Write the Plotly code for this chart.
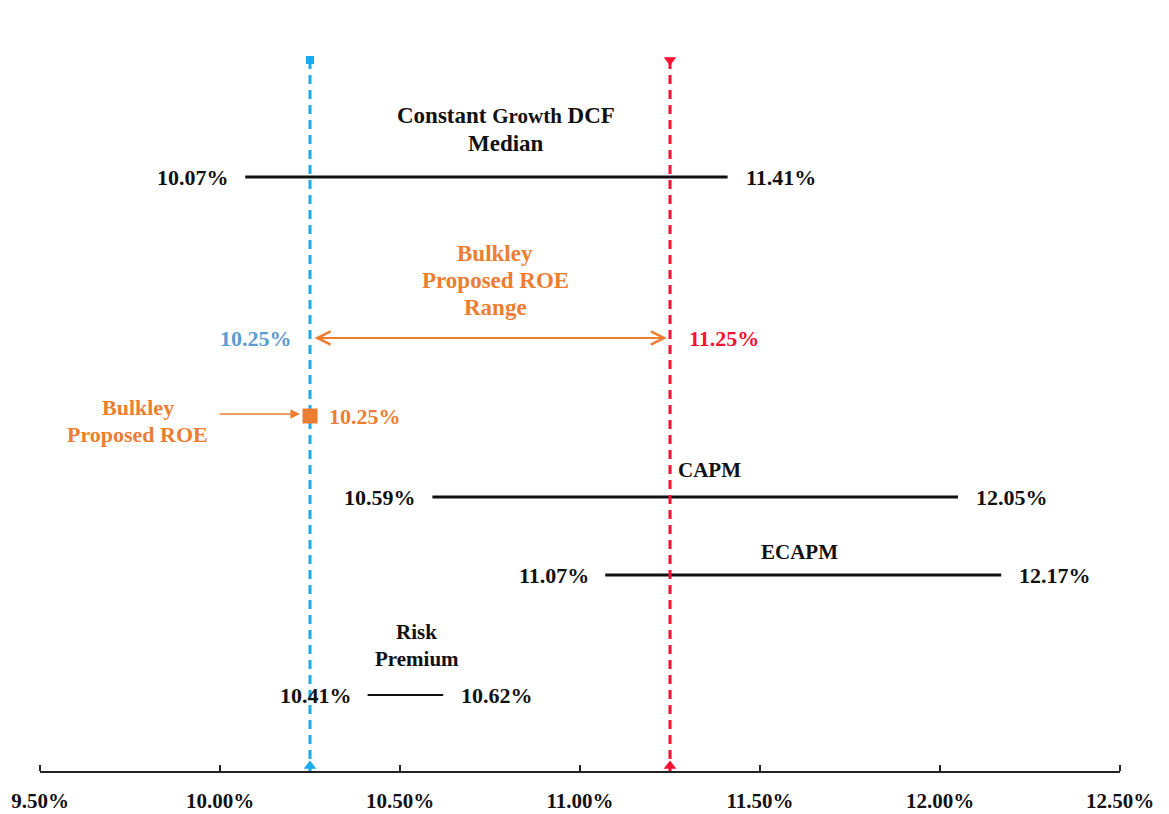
import plotly.graph_objects as go

# ROE estimates by method (percent)
methods = ["Constant Growth DCF Median", "CAPM", "ECAPM", "Risk Premium"]
method_low = [10.07, 10.59, 11.07, 10.41]
method_high = [11.41, 12.05, 12.17, 10.62]

# Proposed ROE range and point estimate (percent)
range_low = 10.25
range_high = 11.25
proposed_roe = 10.25

# Axis ticks (percent)
x_ticks = [9.50, 10.00, 10.50, 11.00, 11.50, 12.00, 12.50]

# ---- layout (vertical positions in plot pixels from the top) ----
W, H = 1169, 814
M_L, M_R, M_T, M_B = 40, 49, 0, 43
PLOT_H = H - M_T - M_B
row_y = [177, 497, 575, 695]
row_width = [3, 3, 3, 2]
range_row_y = 338
proposed_row_y = 416
guide_top = 60

FONT = "Liberation Serif, Times New Roman, serif"
BLACK = "#111111"
ORANGE = "#ED7D31"
BLUE_LINE = "#1AAAEE"
BLUE_TEXT = "#5B9BD5"
RED = "#FF1030"
LABEL_SIZE = 22

fig = go.Figure()
annotations = []


def text(x, y, s, color=BLACK, size=LABEL_SIZE, xanchor="center", xshift=0):
    annotations.append(dict(
        x=x, y=y, xref="x", yref="y", text=f"<b>{s}</b>", showarrow=False,
        xanchor=xanchor, yanchor="middle", xshift=xshift,
        font=dict(family=FONT, size=size, color=color),
    ))


# Method ranges with end labels
for name, lo, hi, y, w in zip(methods, method_low, method_high, row_y, row_width):
    fig.add_trace(go.Scatter(
        x=[lo, hi], y=[y, y], mode="lines",
        line=dict(color=BLACK, width=w), hoverinfo="skip", showlegend=False,
    ))
    text(lo, y, f"{lo:.2f}%", xanchor="right", xshift=-14)
    text(hi, y, f"{hi:.2f}%", xanchor="left", xshift=16)

# Method titles
text(10.794, 115, "Constant <span style='font-size:21px'>Growth</span> DCF", size=23)
text(10.794, 143, "Median", size=23)
text(11.36, 470, "CAPM", size=21)
text(11.611, 552, "ECAPM", size=21)
text(10.547, 632, "Risk", size=21)
text(10.547, 659, "Premium", size=21)

# Vertical guide lines at the proposed range bounds
for xv, col, top_sym, top_size in [(range_low, BLUE_LINE, "square", 8),
                                   (range_high, RED, "triangle-down", 11)]:
    fig.add_trace(go.Scatter(
        x=[xv, xv], y=[guide_top, PLOT_H], mode="lines",
        line=dict(color=col, width=3, dash="9px,6px"),
        hoverinfo="skip", showlegend=False,
    ))
    fig.add_trace(go.Scatter(
        x=[xv], y=[guide_top], mode="markers",
        marker=dict(symbol=top_sym, size=top_size, color=col),
        hoverinfo="skip", showlegend=False, cliponaxis=False,
    ))
    fig.add_trace(go.Scatter(
        x=[xv], y=[PLOT_H - 5], mode="markers",
        marker=dict(symbol="triangle-up", size=11, color=col),
        hoverinfo="skip", showlegend=False, cliponaxis=False,
    ))

# Proposed ROE range: double-headed arrow between the bounds
annotations.append(dict(
    x=range_high, y=range_row_y, ax=range_low, ay=range_row_y,
    xref="x", yref="y", axref="x", ayref="y", text="",
    showarrow=True, arrowside="end+start", arrowhead=5, startarrowhead=5,
    arrowsize=1.3, startarrowsize=1.3, arrowwidth=2, arrowcolor=ORANGE,
    standoff=3, startstandoff=3,
))
text(range_low, range_row_y, f"{range_low:.2f}%", color=BLUE_TEXT,
     xanchor="right", xshift=-16)
text(range_high, range_row_y, f"{range_high:.2f}%", color=RED,
     xanchor="left", xshift=17)
text(10.764, 253, "Bulkley", color=ORANGE, size=23)
text(10.764, 280, "Proposed ROE", color=ORANGE, size=23)
text(10.764, 307, "Range", color=ORANGE, size=23)

# Proposed ROE point
fig.add_trace(go.Scatter(
    x=[proposed_roe], y=[proposed_row_y], mode="markers",
    marker=dict(symbol="square", size=15, color=ORANGE),
    hoverinfo="skip", showlegend=False,
))
text(proposed_roe, proposed_row_y, f"{proposed_roe:.2f}%", color=ORANGE,
     xanchor="left", xshift=17)
annotations.append(dict(
    x=proposed_roe, y=proposed_row_y - 2, ax=-92, ay=0,
    xref="x", yref="y", text="", showarrow=True,
    arrowhead=2, arrowsize=1.2, arrowwidth=1.6, arrowcolor=ORANGE, standoff=10,
))
text(9.772, 407, "Bulkley", color=ORANGE, size=22)
text(9.772, 434, "Proposed ROE", color=ORANGE, size=22)

# Companion axis carrying the upward tick marks along the baseline
fig.add_trace(go.Scatter(x=[], y=[], xaxis="x2", yaxis="y",
                         showlegend=False, hoverinfo="skip"))

fig.update_layout(
    width=W, height=H,
    margin=dict(l=M_L, r=M_R, t=M_T, b=M_B, pad=0),
    paper_bgcolor="white", plot_bgcolor="white",
    annotations=annotations,
    xaxis=dict(
        range=[x_ticks[0], x_ticks[-1]], tickvals=x_ticks,
        ticktext=[f"<b>{v:.2f}%</b>" for v in x_ticks],
        showgrid=False, zeroline=False,
        showline=True, linecolor="#222222", linewidth=2,
        ticks="", tickfont=dict(family=FONT, size=21, color=BLACK),
        ticklabelstandoff=10,
        fixedrange=True,
    ),
    xaxis2=dict(
        range=[x_ticks[0], x_ticks[-1]], tickvals=x_ticks,
        overlaying="x", side="top", anchor="free", position=0,
        showgrid=False, zeroline=False, showline=False,
        showticklabels=False,
        ticks="outside", ticklen=6, tickwidth=2, tickcolor="#222222",
        fixedrange=True,
    ),
    yaxis=dict(range=[PLOT_H, 0], visible=False, fixedrange=True),
)

fig.write_html("out.html")
